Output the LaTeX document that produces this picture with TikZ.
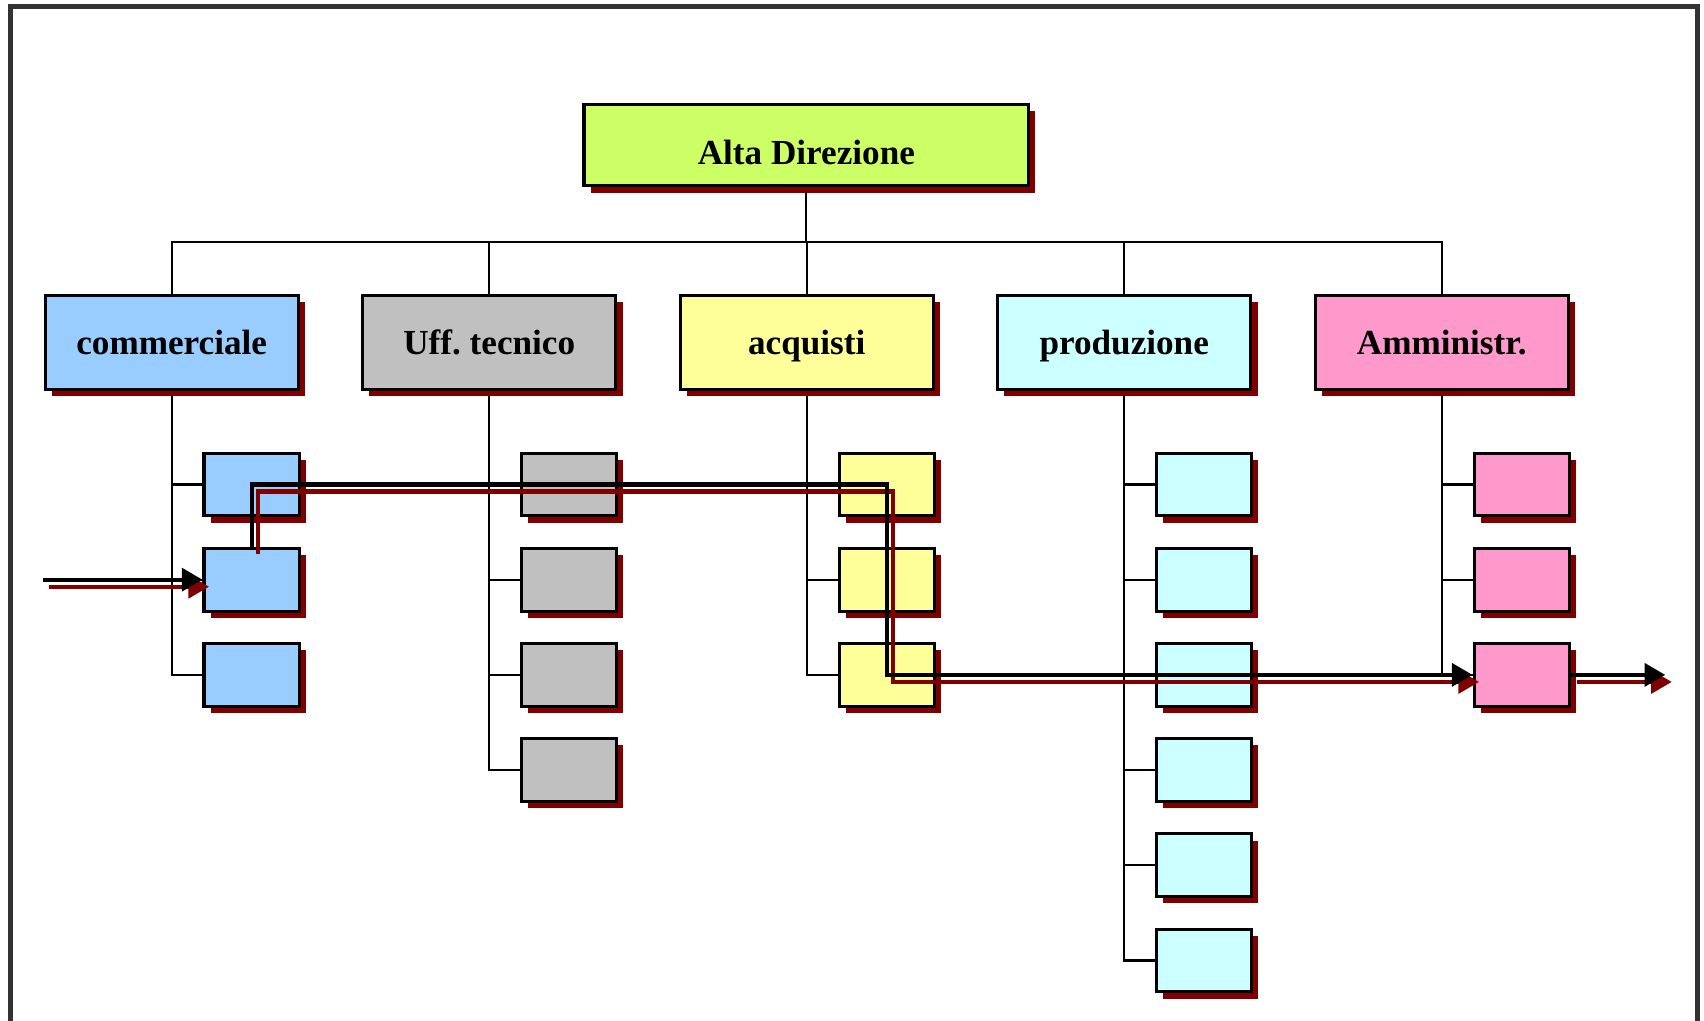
\documentclass[tikz,border=0pt]{standalone}
\usepackage{fontspec}
\setmainfont{Liberation Serif}
\usetikzlibrary{shadows}
\usetikzlibrary{positioning}
\usetikzlibrary{calc}
\usetikzlibrary{arrows.meta}
\usetikzlibrary{backgrounds}

\begin{document}
\begin{tikzpicture}[x=0.01cm,y=-0.01cm,node distance=2.92cm,
	box/.style={rectangle,draw,line width=0.028cm,inner sep=0pt,
		font=\bfseries\fontsize{9.2}{11}\selectfont,
		drop shadow={shadow xshift=0.062cm,shadow yshift=-0.062cm,draw=none,fill=shadowred,opacity=1}},
	top node/.style={box,minimum width=4.09cm,minimum height=0.747cm,text height=0.35cm,text depth=0pt},
	main node/.style={box,minimum width=2.33cm,minimum height=0.86cm,text height=0.22cm,text depth=0pt},
	sub node/.style={box,minimum width=0.875cm,minimum height=0.577cm},
	tree/.style={line width=0.02cm},
	flow/.style={line width=0.038cm,-{Triangle[length=0.19cm,width=0.21cm]}}]
	
	\definecolor{shadowred}{RGB}{128,0,0}
	\definecolor{framecol}{RGB}{51,51,51}
	\definecolor{altacol}{RGB}{204,255,102}
	\definecolor{comcol}{RGB}{153,204,255}
	\definecolor{uffcol}{RGB}{192,192,192}
	\definecolor{acqcol}{RGB}{255,255,153}
	\definecolor{procol}{RGB}{204,255,255}
	\definecolor{ammcol}{RGB}{255,153,204}
	
	\useasboundingbox (0,0) rectangle (1568,938.6);
	\clip (0,0) rectangle (1568,938.6);
	\draw[framecol,line width=0.046cm] (10,6) rectangle (1562,990);
	
	\node[top node,fill=altacol] (d) at (742,133.7) {Alta Direzione};
	\node[main node,fill=comcol] (c) at (158,315) {commerciale};
	\node[main node,fill=uffcol] (u) [right of=c] {Uff.\ tecnico};
	\node[main node,fill=acqcol] (a) [right of=u] {acquisti};
	\node[main node,fill=procol] (p) [right of=a] {produzione};
	\node[main node,fill=ammcol] (m) [right of=p] {Amministr.};
	
	% sotto-uffici
	\foreach \i in {1,...,3}
		\node[sub node,fill=comcol] (c\i) at ($(c)+(73.5,{130.8+87.6*(\i-1)})$) {};
	\foreach \i in {1,...,4}
		\node[sub node,fill=uffcol] (u\i) at ($(u)+(73.5,{130.8+87.6*(\i-1)})$) {};
	\foreach \i in {1,...,3}
		\node[sub node,fill=acqcol] (a\i) at ($(a)+(73.5,{130.8+87.6*(\i-1)})$) {};
	\foreach \i in {1,...,6}
		\node[sub node,fill=procol] (p\i) at ($(p)+(73.5,{130.8+87.6*(\i-1)})$) {};
	\foreach \i in {1,...,3}
		\node[sub node,fill=ammcol] (m\i) at ($(m)+(73.5,{130.8+87.6*(\i-1)})$) {};
	
	\begin{pgfonlayer}{background}
		\coordinate (bus) at ($(d.south)+(0,50)$);
		\draw[tree] (d.south) -- (bus);
		\foreach \n in {c,u,a,p,m}
			\draw[tree] (\n.north) |- (bus);
		\foreach \i in {1,...,3}
			\draw[tree] (c.south) |- (c\i.west);
		\foreach \i in {1,...,4}
			\draw[tree] (u.south) |- (u\i.west);
		\foreach \i in {1,...,3}
			\draw[tree] (a.south) |- (a\i.west);
		\foreach \i in {1,...,6}
			\draw[tree] (p.south) |- (p\i.west);
		\foreach \i in {1,...,3}
			\draw[tree] (m.south) |- (m\i.west);
	\end{pgfonlayer}
	
	\coordinate (in) at ($(c2.west)+(-147,0)$);
	\coordinate (out) at ($(m3.east)+(87,0)$);
	
	% percorso (ombra rossa)
	\begin{scope}[transform canvas={shift={(6,6.5)}},shadowred]
		\draw[flow] (in) -- (c2.west);
		\draw[flow] (c2.north) |- (a1.center) -- (a3.center) -- (m3.west);
		\draw[flow] (m3.east) -- (out);
	\end{scope}
	
	% percorso
	\draw[flow] (in) -- (c2.west);
	\draw[flow] (c2.north) |- (a1.center) -- (a3.center) -- (m3.west);
	\draw[flow] (m3.east) -- (out);
\end{tikzpicture}
\end{document}
